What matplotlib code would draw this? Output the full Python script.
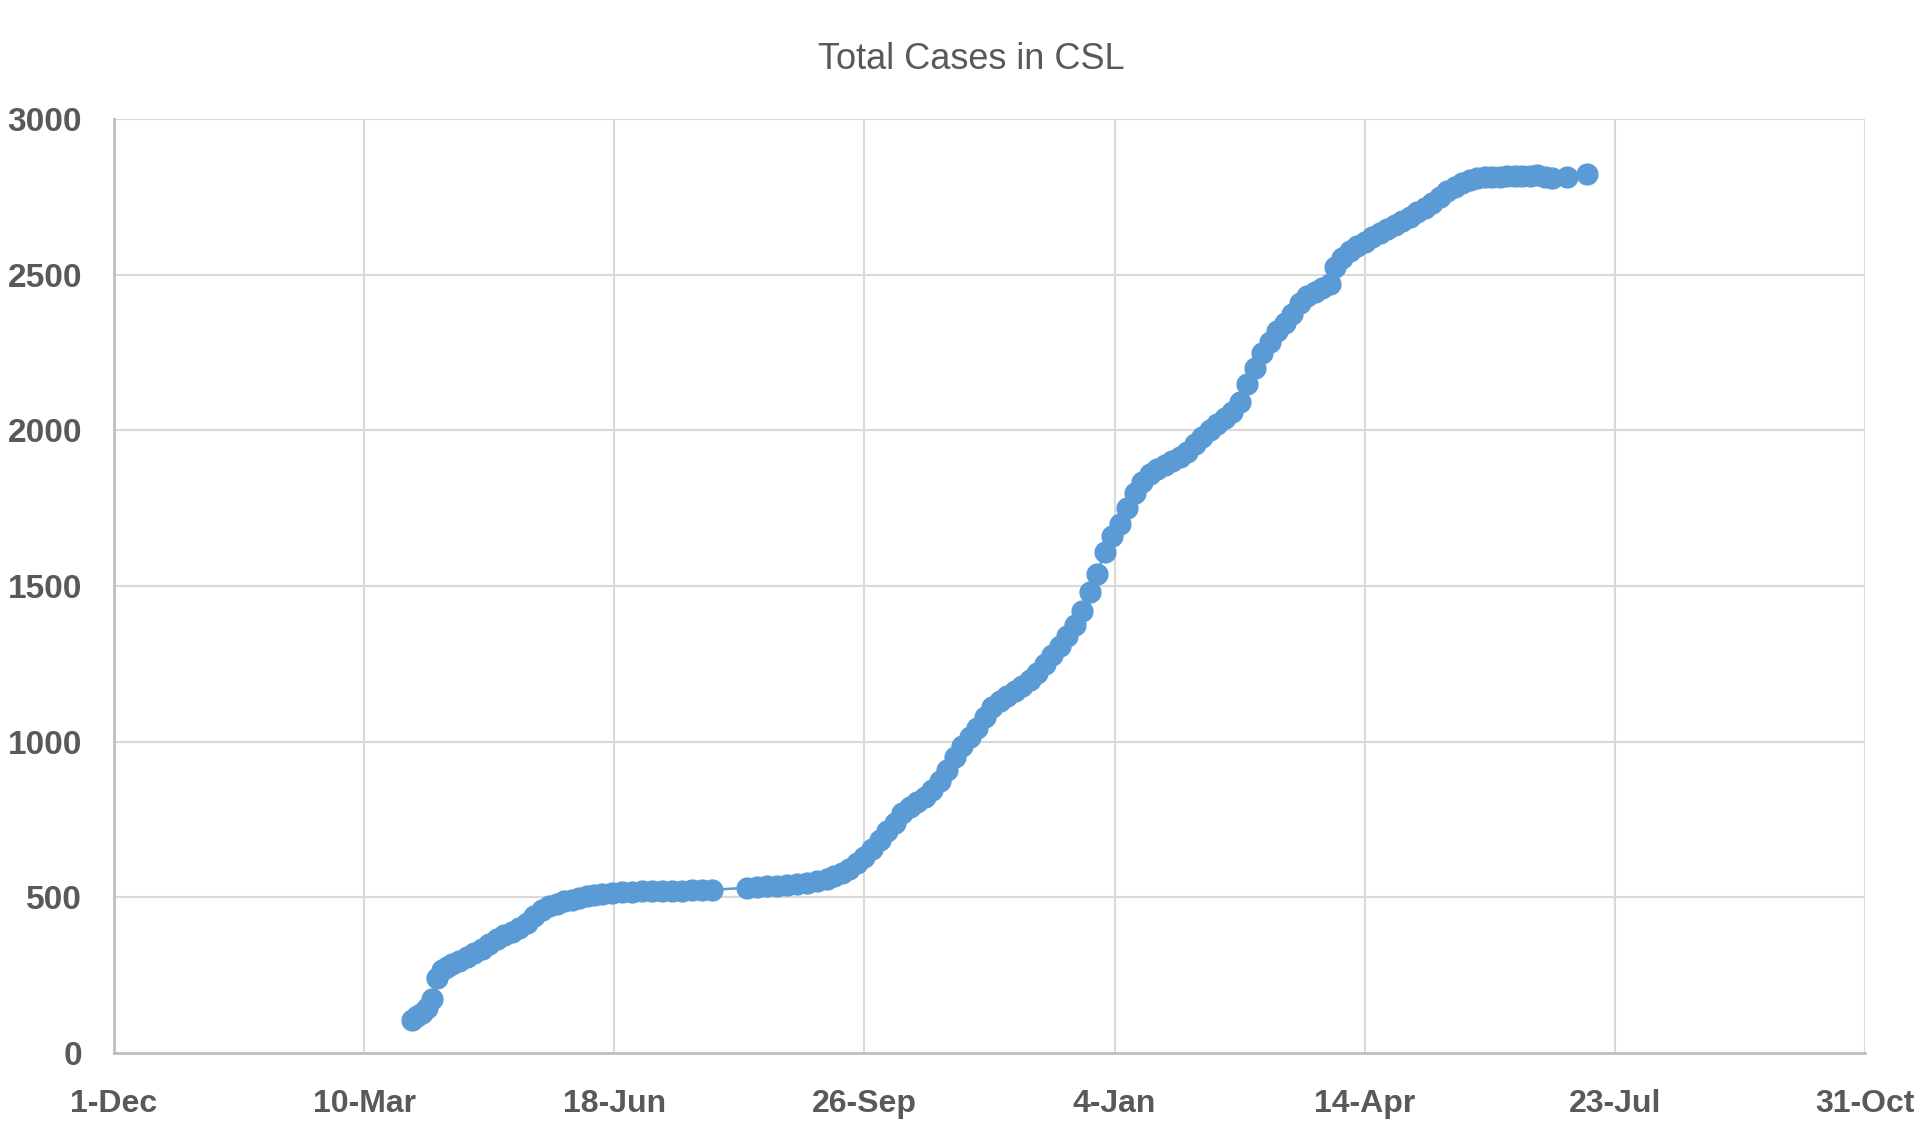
import numpy as np
import pandas as pd
import matplotlib
matplotlib.use('Agg')
import matplotlib.pyplot as plt
import matplotlib.dates as mdates

# total cases (roughly every 3 days)
dates = [
    '2020-03-29', '2020-03-31', '2020-04-02', '2020-04-04', '2020-04-06', '2020-04-08',
    '2020-04-10', '2020-04-12', '2020-04-14', '2020-04-17', '2020-04-20', '2020-04-23',
    '2020-04-26', '2020-04-29', '2020-05-02', '2020-05-05', '2020-05-08', '2020-05-11',
    '2020-05-14', '2020-05-17', '2020-05-20', '2020-05-23', '2020-05-26', '2020-05-29',
    '2020-06-01', '2020-06-04', '2020-06-07', '2020-06-10', '2020-06-13', '2020-06-17',
    '2020-06-21', '2020-06-25', '2020-06-29', '2020-07-03', '2020-07-07', '2020-07-11',
    '2020-07-15', '2020-07-19', '2020-07-23', '2020-07-27',
    '2020-08-10', '2020-08-14', '2020-08-18', '2020-08-22', '2020-08-26', '2020-08-30',
    '2020-09-03', '2020-09-07', '2020-09-11', '2020-09-14', '2020-09-17', '2020-09-20',
    '2020-09-23', '2020-09-26', '2020-09-29', '2020-10-02', '2020-10-05', '2020-10-08',
    '2020-10-11', '2020-10-14', '2020-10-17', '2020-10-20', '2020-10-23', '2020-10-26',
    '2020-10-29', '2020-11-01', '2020-11-04', '2020-11-07', '2020-11-10', '2020-11-13',
    '2020-11-16', '2020-11-19', '2020-11-22', '2020-11-25', '2020-11-28', '2020-12-01',
    '2020-12-04', '2020-12-07', '2020-12-10', '2020-12-13', '2020-12-16', '2020-12-19',
    '2020-12-22', '2020-12-25', '2020-12-28', '2020-12-31', '2021-01-03', '2021-01-06',
    '2021-01-09', '2021-01-12', '2021-01-15', '2021-01-18', '2021-01-21', '2021-01-24',
    '2021-01-27', '2021-01-30', '2021-02-02', '2021-02-05', '2021-02-08', '2021-02-11',
    '2021-02-14', '2021-02-17', '2021-02-20', '2021-02-23', '2021-02-26', '2021-03-01',
    '2021-03-04', '2021-03-07', '2021-03-10', '2021-03-13', '2021-03-16', '2021-03-19',
    '2021-03-22', '2021-03-25', '2021-03-28', '2021-03-31', '2021-04-02', '2021-04-05',
    '2021-04-08', '2021-04-11', '2021-04-14', '2021-04-17', '2021-04-20', '2021-04-23',
    '2021-04-26', '2021-04-29', '2021-05-02', '2021-05-05', '2021-05-08', '2021-05-11',
    '2021-05-14', '2021-05-17', '2021-05-20', '2021-05-23', '2021-05-26', '2021-05-29',
    '2021-06-01', '2021-06-04', '2021-06-07', '2021-06-10', '2021-06-13', '2021-06-16',
    '2021-06-19', '2021-06-22', '2021-06-25', '2021-06-28', '2021-07-04', '2021-07-12',
]
total_cases = [
    106, 118, 130, 145, 175, 240,
    268, 276, 285, 296, 308, 320,
    334, 350, 365, 378, 390, 402,
    418, 440, 458, 472, 480, 487,
    492, 497, 503, 507, 511, 514,
    516, 518, 519, 520, 520, 521,
    521, 522, 523, 524,
    531, 533, 535, 537, 540, 543,
    547, 552, 560, 568, 578, 592,
    610, 630, 655, 685, 712, 740,
    772, 790, 805, 822, 845, 875,
    910, 950, 985, 1015, 1045, 1080,
    1110, 1130, 1148, 1163, 1180, 1199,
    1222, 1248, 1278, 1308, 1340, 1375,
    1420, 1480, 1540, 1610, 1660, 1700,
    1750, 1800, 1835, 1860, 1875, 1888,
    1900, 1915, 1930, 1955, 1978, 2000,
    2020, 2040, 2060, 2090, 2150, 2200,
    2250, 2285, 2320, 2345, 2375, 2410,
    2430, 2445, 2458, 2470, 2525, 2555,
    2575, 2592, 2605, 2620, 2635, 2648,
    2660, 2672, 2685, 2700, 2715, 2730,
    2750, 2768, 2782, 2795, 2803, 2810,
    2813, 2815, 2815, 2816, 2816, 2817,
    2818, 2820, 2815, 2812, 2813, 2822,
]

# x-axis ticks (every 100 days like excel)
tick_dates = ['2019-12-01', '2020-03-10', '2020-06-18', '2020-09-26',
              '2021-01-04', '2021-04-14', '2021-07-23', '2021-10-31']
tick_labels = ['1-Dec', '10-Mar', '18-Jun', '26-Sep', '4-Jan', '14-Apr', '23-Jul', '31-Oct']
y_ticks = [0, 500, 1000, 1500, 2000, 2500, 3000]

x = pd.to_datetime(dates)
xt = pd.to_datetime(tick_dates)

fig = plt.figure(figsize=(19.2, 11.38), dpi=100)
ax = fig.add_axes([0.0594, 0.0747, 0.912, 0.8207])

blue = '#5B9BD5'
ax.plot(x, total_cases, '-o', color=blue, lw=1.8, ms=15, mec=blue, mfc=blue, zorder=3)

ax.set_xlim(xt[0], xt[-1])
ax.set_ylim(0, 3000)
ax.set_xticks(xt)
ax.set_xticklabels(tick_labels)
ax.set_yticks(y_ticks)

ax.grid(True, color='#d9d9d9', lw=1.5)
ax.set_axisbelow(True)
for s in ['top', 'right']:
    ax.spines[s].set_visible(False)
for s in ['left', 'bottom']:
    ax.spines[s].set_color('#bfbfbf')
    ax.spines[s].set_linewidth(2)
ax.tick_params(length=0)
ax.tick_params(axis='x', pad=26)
ax.tick_params(axis='y', pad=23)
for lab in ax.get_xticklabels():
    lab.set_fontfamily('Liberation Sans')
    lab.set_fontweight('bold')
    lab.set_fontsize(23)
    lab.set_color('#595959')
for lab in ax.get_yticklabels():
    lab.set_fontfamily('Liberation Sans')
    lab.set_fontweight('bold')
    lab.set_fontsize(24)
    lab.set_color('#595959')

fig.text(0.506, 0.948, 'Total Cases in CSL', ha='center', va='center',
         fontsize=26, color='#595959', family='Liberation Sans')

fig.savefig('out.png', dpi=100)
